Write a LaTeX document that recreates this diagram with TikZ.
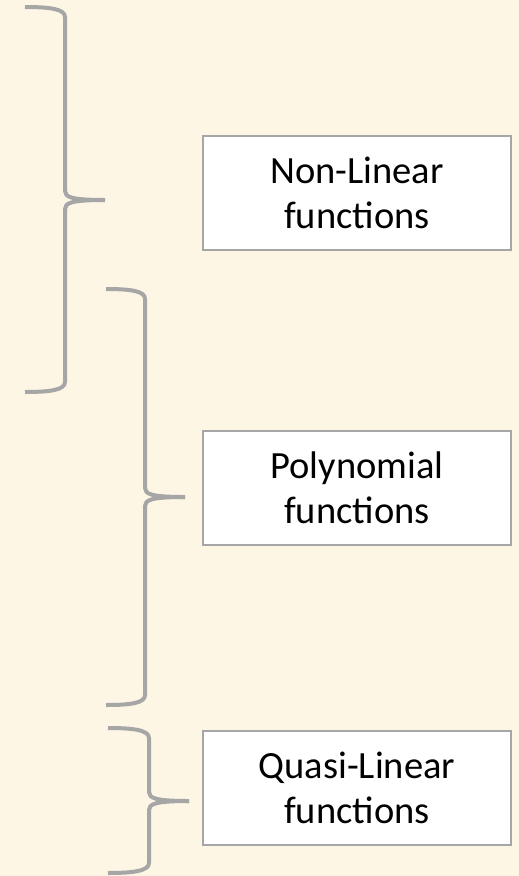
\documentclass[tikz,border=0pt]{standalone}
\usepackage{fontspec}
\setmainfont{Carlito}
\begin{document}
\definecolor{paper}{RGB}{253,246,229}
\definecolor{bracegray}{RGB}{166,166,166}
\tikzset{
  labelbox/.style={draw=bracegray, line width=2pt, fill=white,
    minimum width=308pt, minimum height=114pt, inner sep=0pt,
    align=center, font=\fontsize{38.5}{45}\selectfont},
  bracestroke/.style={draw=bracegray, line width=4pt, line cap=butt, line join=round},
}
\begin{tikzpicture}[x=1pt, y=-1pt]
  \useasboundingbox[fill=paper] (0,0) rectangle (519,876);

  % category boxes
  \node[labelbox] (nonlin) at (357,193) {Non-Linear\\functions};
  \node[labelbox] (poly)   at (357,488) {Polynomial\\functions};
  \node[labelbox] (quasi)  at (357,787.5) {Quasi-Linear\\functions};

  % #1 left x, #2 spine x, #3 tip x, #4 top y, #5 tip y, #6 bottom y
  \newcommand{\curlybrace}[6]{%
    \draw[bracestroke] (#1,#4) .. controls ({#1+25},#4) and (#2,{#4+2}) .. (#2,{#4+10})
      -- (#2,{#5-9}) .. controls (#2,{#5-3}) and ({#2+6},#5) .. (#3,#5);
    \draw[bracestroke] (#1,#6) .. controls ({#1+25},#6) and (#2,{#6-2}) .. (#2,{#6-10})
      -- (#2,{#5+9}) .. controls (#2,{#5+3}) and ({#2+6},#5) .. (#3,#5);
  }

  \curlybrace{25}{65}{105}{7}{200}{392}
  \curlybrace{106}{145}{185}{289}{497}{705}
  \curlybrace{108}{149}{189}{728}{801}{873}
\end{tikzpicture}
\end{document}
